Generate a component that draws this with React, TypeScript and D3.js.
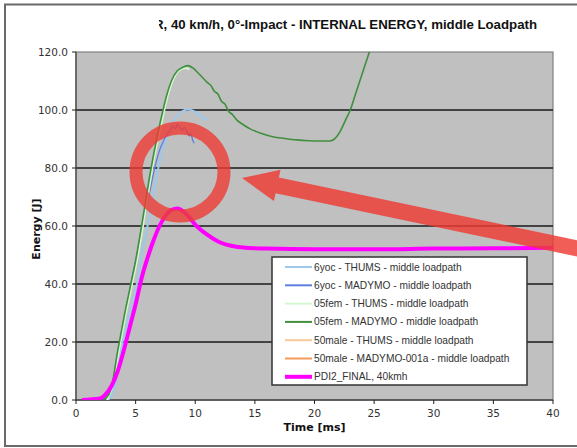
import React from 'react';
import * as d3 from 'd3';

// time [ms] / energy [J] per series
const yocThumsT = [2.7, 3.2, 3.9, 4.5, 5.1, 5.5, 6.0, 6.5, 6.9, 7.4, 7.9, 8.4, 8.9, 9.3, 9.8, 10.3, 10.7, 11.1];
const yocThumsE = [0, 4, 20, 30, 40, 50, 60, 71, 80, 88, 94, 97.5, 99.5, 100.2, 99.8, 98.5, 97.3, 96.5];

const yocMadymoT = [2.5, 3.0, 3.7, 4.2, 4.6, 5.1, 5.6, 6.1, 6.6, 7.0, 7.3, 7.6, 7.9, 8.1, 8.3, 8.5, 8.7, 8.9, 9.1, 9.3, 9.5, 9.6, 9.8, 9.9];
const yocMadymoE = [0, 4, 20, 30, 40, 50, 60, 70, 80, 86, 89, 91.5, 93, 94.5, 93.5, 95, 94, 93, 94, 92.5, 91, 92, 89.5, 88.5];

const femThumsT = [2.6, 3.0, 3.6, 4.1, 4.7, 5.2, 5.7, 6.4, 7.3, 7.7, 8.1, 8.6, 9.1, 9.5];
const femThumsE = [0, 4, 17, 28, 40, 50, 62, 80, 98, 105, 110, 113.5, 114.5, 114];

const femMadymoT = [2.2, 2.7, 3.0, 3.5, 4.0, 4.6, 5.0, 5.5, 6.3, 7.3, 7.6, 8.0, 8.5, 9.0, 9.4, 9.8, 10.3, 10.7, 11.0, 11.3, 11.6, 11.9, 12.2, 12.5, 12.8, 13.1, 13.5, 14.0, 14.6, 15.5, 16.5, 17.5, 18.5, 19.5, 20.5, 21.3, 21.8, 22.2, 22.6, 23.0, 23.4, 23.8, 24.2, 24.6, 25.0, 25.5];
const femMadymoE = [0, 1.5, 5, 17, 28, 40, 48, 60, 80, 100, 105, 110, 113.5, 114.8, 115.3, 114.5, 112.5, 110.8, 109.5, 108.5, 106.5, 105.5, 103, 102, 99.5, 98.5, 96.5, 95, 93.5, 92, 90.8, 90.2, 89.7, 89.4, 89.3, 89.3, 90.5, 93, 96.5, 100, 105, 110, 115, 120, 125, 131];

const maleThumsT: number[] = [];
const maleThumsE: number[] = [];
const maleMadymoT: number[] = [];
const maleMadymoE: number[] = [];

const pdiT = [0.5, 2.0, 2.5, 3.0, 3.5, 4.0, 4.5, 5.0, 5.5, 6.0, 6.5, 7.0, 7.5, 8.0, 8.5, 9.0, 9.5, 10.0, 11.0, 12.0, 13.0, 14.0, 16.0, 20.0, 25.0, 30.0, 35.0, 40.0];
const pdiE = [0, 0.5, 2, 5, 10, 17, 25, 33, 42, 49, 55, 60, 63.5, 65.5, 66, 65, 63, 60.5, 57, 54.5, 53.2, 52.6, 52.2, 52, 52, 52.2, 52.3, 52.5];

const seriesNames = [
  '6yoc - THUMS - middle loadpath',
  '6yoc - MADYMO - middle loadpath',
  '05fem - THUMS - middle loadpath',
  '05fem - MADYMO - middle loadpath',
  '50male - THUMS - middle loadpath',
  '50male - MADYMO-001a - middle loadpath',
  'PDI2_FINAL, 40kmh',
];
const seriesColors = ['#9cc8ec', '#5f7fe0', '#d4f7cf', '#3f8f3f', '#f9c89a', '#f39a5a', '#ff00ff'];
const seriesWidths = [2, 1.3, 2, 1.6, 1.5, 1.5, 4];
const seriesT = [yocThumsT, yocMadymoT, femThumsT, femMadymoT, maleThumsT, maleMadymoT, pdiT];
const seriesE = [yocThumsE, yocMadymoE, femThumsE, femMadymoE, maleThumsE, maleMadymoE, pdiE];

const xTicks = [0, 5, 10, 15, 20, 25, 30, 35, 40];
const yTicks = [0, 20, 40, 60, 80, 100, 120];
const title = 'R, 40 km/h, 0°-Impact - INTERNAL ENERGY, middle Loadpath';

export default function App() {
  const W = 577, H = 448;
  const m = { left: 76, right: 553, top: 52, bottom: 400 };
  const x = d3.scaleLinear().domain([0, 40]).range([m.left, m.right]);
  const y = d3.scaleLinear().domain([0, 120]).range([m.bottom, m.top]);
  const fmt = d3.format('.1f');
  const tickFont = 'DejaVu Sans, Verdana, sans-serif';

  const line = d3.line<[number, number]>()
    .x(d => x(d[0]))
    .y(d => y(d[1]))
    .curve(d3.curveMonotoneX);

  // arrow annotation
  const tip = [242, 178];
  const ang = Math.atan(0.21);
  const u = [Math.cos(ang), Math.sin(ang)];
  const n = [-u[1], u[0]];
  const headLen = 36, headHalf = 16, shaftHalf = 8, far = 380;
  const pt = (a: number, b: number) => [tip[0] + a * u[0] + b * n[0], tip[1] + a * u[1] + b * n[1]];
  const arrowPts = [
    pt(0, 0), pt(headLen, headHalf), pt(headLen, shaftHalf), pt(far, shaftHalf),
    pt(far, -shaftHalf), pt(headLen, -shaftHalf), pt(headLen, -headHalf),
  ].map(p => p.join(',')).join(' ');

  const legX = 272, legY = 257, legW = 255, legH = 128, rowH = 18.3;

  return (
    <svg width={W} height={H} style={{ position: 'absolute', left: 0, top: 0, background: '#fff' }}>
      <defs>
        <clipPath id="plot">
          <rect x={m.left} y={m.top} width={m.right - m.left} height={m.bottom - m.top} />
        </clipPath>
        <clipPath id="titleClip">
          <rect x={159} y={0} width={W} height={50} />
        </clipPath>
      </defs>

      {/* photo frame */}
      <line x1={4} x2={W} y1={4.5} y2={4.5} stroke="#6a6a6a" strokeWidth={2} />
      <line x1={5} x2={5} y1={4} y2={446} stroke="#6a6a6a" strokeWidth={2} />
      <line x1={4} x2={W} y1={446} y2={446} stroke="#6a6a6a" strokeWidth={2} />

      <text x={154} y={29} clipPath="url(#titleClip)" fontFamily="Liberation Sans, Arial, sans-serif"
        fontWeight="bold" fontSize={12} fill="#111" textLength={383} lengthAdjust="spacingAndGlyphs">
        {title}
      </text>

      <rect x={m.left} y={m.top} width={m.right - m.left} height={m.bottom - m.top}
        fill="#c0c0c0" stroke="#808080" strokeWidth={1.2} />

      {yTicks.filter(t => t > 0 && t < 120).map(t => (
        <line key={t} x1={m.left} x2={m.right} y1={y(t)} y2={y(t)} stroke="#1a1a1a" strokeWidth={1.5} />
      ))}

      <line x1={m.left} x2={m.left} y1={m.top} y2={m.bottom} stroke="#444" strokeWidth={1.2} />
      <line x1={m.left} x2={m.right} y1={m.bottom} y2={m.bottom} stroke="#444" strokeWidth={1.5} />

      {yTicks.map(t => (
        <g key={t}>
          <line x1={m.left - 4} x2={m.left} y1={y(t)} y2={y(t)} stroke="#222" strokeWidth={1} />
          <text x={m.left - 8} y={y(t) + 4} textAnchor="end" fontFamily={tickFont} fontSize={10.5} fill="#333">
            {fmt(t)}
          </text>
        </g>
      ))}
      {xTicks.map(t => (
        <g key={t}>
          <line x1={x(t)} x2={x(t)} y1={m.bottom} y2={m.bottom + 4} stroke="#222" strokeWidth={1} />
          <text x={x(t)} y={m.bottom + 17} textAnchor="middle" fontFamily={tickFont} fontSize={10.5} fill="#333">
            {t}
          </text>
        </g>
      ))}

      <text x={x(20)} y={431} textAnchor="middle" fontFamily={tickFont} fontWeight="bold" fontSize={11} fill="#111">
        Time [ms]
      </text>
      <text transform="translate(40,229) rotate(-90)" textAnchor="middle" fontFamily={tickFont}
        fontWeight="bold" fontSize={11} fill="#111">
        Energy [J]
      </text>

      <g clipPath="url(#plot)">
        {seriesNames.map((name, i) => {
          const pts = seriesT[i].map((t, k) => [t, seriesE[i][k]] as [number, number]);
          if (pts.length === 0) return null;
          return (
            <path key={name} d={line(pts) || ''} fill="none" stroke={seriesColors[i]}
              strokeWidth={seriesWidths[i]} strokeLinejoin="round" />
          );
        })}
      </g>

      <g>
        <rect x={legX} y={legY} width={legW} height={legH} fill="#fff" stroke="#333" strokeWidth={1.5} />
        {seriesNames.map((name, i) => {
          const ry = legY + 10 + i * rowH;
          return (
            <g key={name}>
              <line x1={285} x2={312} y1={ry} y2={ry} stroke={seriesColors[i]} strokeWidth={i === 6 ? 4 : 2} />
              <text x={314} y={ry + 3.5} fontFamily="Liberation Sans, Arial, sans-serif" fontSize={10.2} fill="#333">
                {name}
              </text>
            </g>
          );
        })}
      </g>

      {/* red annotation */}
      <circle cx={180} cy={172} r={44} fill="none" stroke="#ee3b33" strokeOpacity={0.8} strokeWidth={13} />
      <polygon points={arrowPts} fill="#ee3b33" fillOpacity={0.82} />
    </svg>
  );
}
